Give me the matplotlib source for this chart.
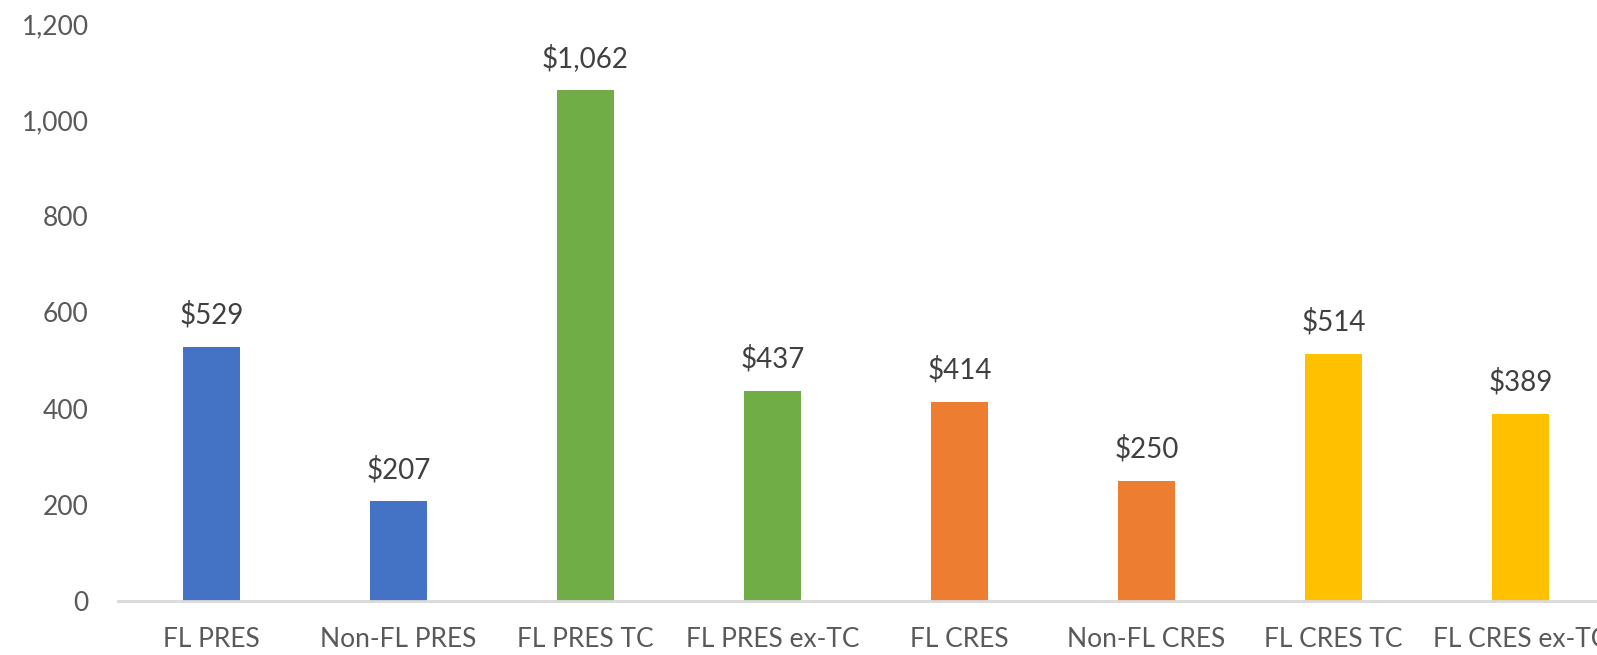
import matplotlib.pyplot as plt
import numpy as np

categories = ["FL PRES", "Non-FL PRES", "FL PRES TC", "FL PRES ex-TC",
              "FL CRES", "Non-FL CRES", "FL CRES TC", "FL CRES ex-TC"]
values = [529, 207, 1062, 437, 414, 250, 514, 389]
colors = ["#4472C4", "#4472C4", "#70AD47", "#70AD47",
          "#ED7D31", "#ED7D31", "#FFC000", "#FFC000"]

plt.rcParams["font.family"] = ["Lato", "DejaVu Sans"]
txt = "#595959"

fig = plt.figure(figsize=(15.97, 6.55), dpi=100)
ax = fig.add_axes([118 / 1597, 54 / 655, 1496 / 1597, 577 / 655])

x = np.arange(len(categories))
ax.bar(x, values, width=0.31, color=colors, zorder=2)

for xi, v in zip(x, values):
    ax.annotate(f"${v:,}", (xi, v), xytext=(0, 13), textcoords="offset points",
                ha="center", va="bottom", fontsize=20, color="#404040")

ax.set_xlim(-0.5, 7.5)
ax.set_ylim(0, 1200)
ax.set_yticks(range(0, 1201, 200))
ax.set_yticklabels([f"{t:,}" for t in range(0, 1201, 200)])
ax.set_xticks(x)
ax.set_xticklabels(categories)

for s in ["top", "right", "left"]:
    ax.spines[s].set_visible(False)
ax.spines["bottom"].set_color("#D9D9D9")
ax.spines["bottom"].set_linewidth(2)
ax.tick_params(axis="both", length=0, labelsize=19, labelcolor=txt)
ax.tick_params(axis="y", pad=21)
ax.tick_params(axis="x", pad=19)

fig.savefig("out.png", dpi=100)
